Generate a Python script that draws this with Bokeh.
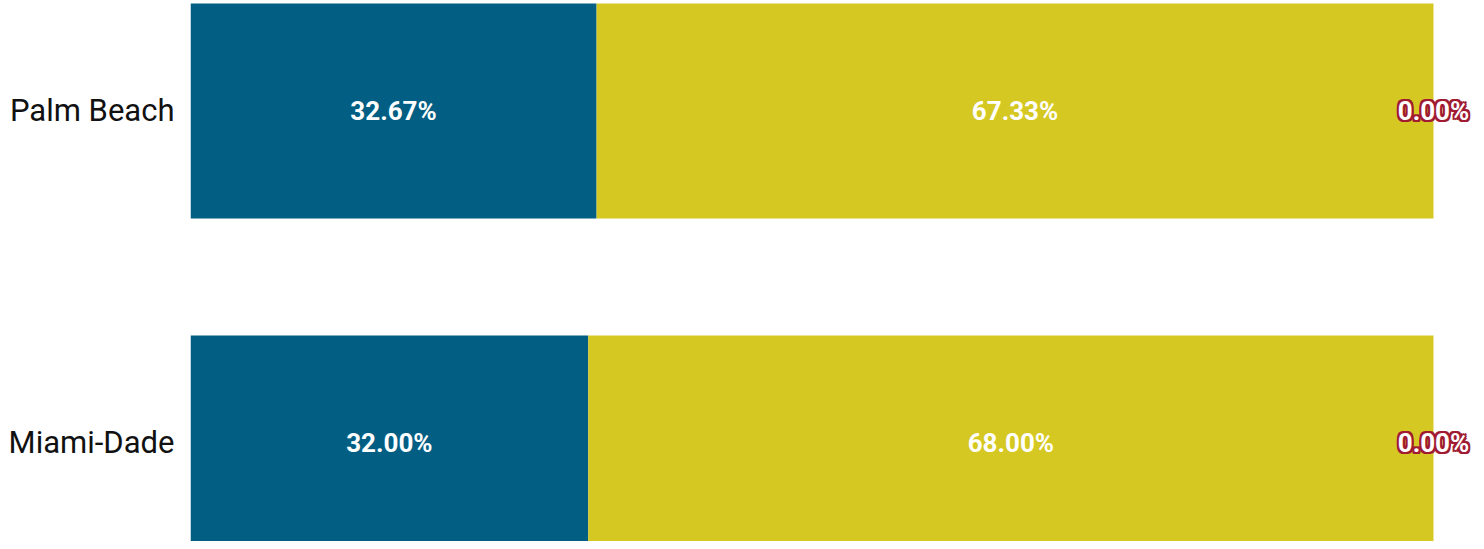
from bokeh.plotting import figure
from bokeh.models import FixedTicker, Range1d, ColumnDataSource
from bokeh.core.properties import value
from bokeh.embed import file_html
from bokeh.resources import INLINE

categories = ["Palm Beach", "Miami-Dade"]
y_pos = [1, 0]
blue_vals = [32.67, 32.00]
yellow_vals = [67.33, 68.00]
red_vals = [0.00, 0.00]

BLUE = "#025E83"
YELLOW = "#D6C822"
RED = "#A01B31"

src = ColumnDataSource(dict(y=y_pos, blue=blue_vals, yellow=yellow_vals, red=red_vals))

p = figure(width=1476, height=541, output_backend="svg", toolbar_location=None,
           x_range=Range1d(0, 103.46), y_range=Range1d(-0.2967, 1.3328),
           min_border_left=190, min_border_right=0, min_border_top=0, min_border_bottom=0)
p.hbar_stack(["blue", "yellow", "red"], y="y", height=0.648, source=src,
             color=[BLUE, YELLOW, RED], line_color=None)

# labels
blue_c = [b / 2 for b in blue_vals]
yellow_c = [b + yv / 2 for b, yv in zip(blue_vals, yellow_vals)]
red_c = [b + yv + r / 2 for b, yv, r in zip(blue_vals, yellow_vals, red_vals)]
fmt = lambda v: f"{v:.2f}%"
FS = "26px"
p.text(x=blue_c + yellow_c, y=y_pos + y_pos,
       text=[fmt(v) for v in blue_vals] + [fmt(v) for v in yellow_vals],
       text_align="center", text_baseline="middle", text_color="white",
       text_font=value("Roboto"), text_font_style="bold", text_font_size=FS)
# dark red halo behind the zero labels
for dx, dy in [(-2, 0), (2, 0), (0, -2), (0, 2), (-2, -2), (2, 2), (-2, 2), (2, -2)]:
    p.text(x=red_c, y=y_pos, text=[fmt(v) for v in red_vals],
           x_offset=dx, y_offset=dy,
           text_align="center", text_baseline="middle", text_color=RED,
           text_font=value("Roboto"), text_font_style="bold", text_font_size=FS)
p.text(x=red_c, y=y_pos, text=[fmt(v) for v in red_vals],
       text_align="center", text_baseline="middle", text_color="white",
       text_font=value("Roboto"), text_font_style="bold", text_font_size=FS)

p.xaxis.visible = False
p.yaxis.ticker = FixedTicker(ticks=y_pos)
p.yaxis.major_label_overrides = {yv: c for yv, c in zip(y_pos, categories)}
p.yaxis.axis_line_color = None
p.yaxis.major_tick_line_color = None
p.yaxis.minor_tick_line_color = None
p.yaxis.major_tick_out = 0
p.yaxis.major_label_standoff = 16
p.yaxis.major_label_text_font = "Roboto"
p.yaxis.major_label_text_font_size = "31px"
p.yaxis.major_label_text_color = "#111111"
p.grid.visible = False
p.outline_line_color = None
p.background_fill_color = "white"
p.border_fill_color = "white"

open("out.html", "w").write(file_html(p, INLINE))
